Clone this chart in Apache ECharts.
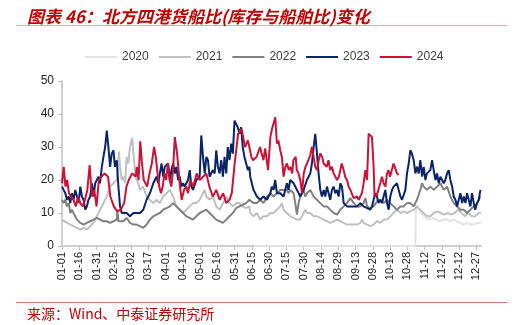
<!DOCTYPE html>
<html><head><meta charset="utf-8">
<script src="https://cdn.jsdelivr.net/npm/echarts@6/dist/echarts.min.js"></script>
<style>html,body{margin:0;padding:0;background:#fff}#c{width:517px;height:325px}</style>
</head><body><div id="c"></div>
<script>
const tickLabels = ['01-01','01-16','01-31','02-15','03-02','03-17','04-01','04-16','05-01','05-16','05-31','06-15','06-30','07-15','07-30','08-14','08-29','09-13','09-28','10-13','10-28','11-12','11-27','12-12','12-27'];
const seriesNames = ['2020','2021','2022','2023','2024'];

// [day of year (0 = 01-01), ratio]
const d2020 = [[167,0],[307,0],[307.5,12.4],[310,11],[313,9.5],[316,8.5],[319,8],[322,8.5],[325,8],[328,7.5],[331,8],[334,8],[337,7.5],[340,8],[343,7.5],[346,7],[349,6.5],[352,7],[355,6.5],[358,6.5],[361,7],[364,7]];

const d2021 = [[0,8],[1.4,7.5],[4.3,7],[7.2,6.5],[10,6],[13,5.5],[15.9,5],[18.7,5.5],[21.6,5],[24.5,6],[27.4,7],[30.3,9],[33,11],[36,13],[38.9,15],[41.8,18],[44.7,19],[47.6,20],[49.5,28.6],[50.4,24],[51.9,20],[53.3,21],[54.8,19],[56.2,27],[57.6,25],[59,30],[61,32.8],[62,28],[63.4,23],[64.8,20],[66.3,19],[67.7,17],[70.6,18],[73.5,15],[76.4,14],[79.3,13],[82.1,14],[85,13],[87.9,15],[90.8,16],[93.7,17],[96.5,15],[99.4,12],[102.3,11],[105.2,10],[108,11],[111,12],[113.8,13],[116.7,13],[119.6,14],[122.5,16],[124,17],[125.4,15],[128.2,14],[131,15],[134,12],[136.9,11],[139.8,13],[142.7,15],[145.5,13],[148.4,12],[151.3,13],[154.2,13],[157,12],[160,11.5],[162.8,12],[163.5,10],[166.4,9],[169.3,10],[172.2,8],[175,9],[178,9],[181,10],[183.8,10],[186.7,11],[189.6,12],[191,13],[192.5,11],[195.4,10],[198.3,9],[201.2,8.5],[204.1,8],[207,8],[209.9,10],[211.3,11],[212.8,10],[215.7,10],[218.6,9],[221.5,9],[224.4,8.5],[227.3,8],[230.2,7.5],[233,7],[236,7.5],[238.9,8],[241.8,7.5],[244.7,7],[247.6,6.5],[250.5,6.5],[253.4,6.5],[256.3,6.5],[259.2,7],[260.6,8],[262,7],[265,6.5],[267.8,6],[270.7,6.5],[273.6,7.5],[276.5,7],[279.4,8],[282.3,8],[285.2,9],[288.1,10],[291,11],[294,10],[296.8,10.5],[299.7,10],[302.6,10.5],[305.5,11],[308.4,12],[311,11],[314,10],[317,9],[320,9],[323,10],[326,10.5],[329,10],[332,9.5],[335,10],[338,9.5],[341,10],[344,11],[347,10],[350,9],[353,10],[356,9],[359,9],[362,10],[364,10]];

const d2022 = [[0,14],[1.4,13],[2.9,14],[4.3,12],[5.8,13],[7.2,10],[8.6,11],[10,10],[11.5,9],[13,8],[15.9,7],[18.7,6.5],[21.6,7],[24.5,7.5],[27.4,8],[30.3,8.5],[33,8],[36,7.5],[38.9,7.5],[41.8,7],[44.7,7.5],[46,7],[47.6,8],[48.1,11],[49,7.5],[50.4,7],[53.3,7.5],[56.2,8.5],[59,7],[62,6.5],[64.8,6.5],[67.7,6],[70.6,5.5],[73.5,6.5],[76.4,8],[79.3,9],[82.1,9.5],[85,10],[87.9,11],[90.8,11.5],[93.7,12],[96.5,13],[99.4,12],[102.3,11],[105.2,10],[108,9],[111,8.5],[113.8,8],[116.7,9],[119.6,10],[122.5,10.5],[125.4,11],[128.2,10],[131,9],[134,8],[136.9,7.5],[139.8,7],[142.7,8],[145.5,9],[148.4,10],[151.3,11.5],[154.2,12],[157,12.5],[160,13],[162.8,14],[166.4,13],[169.3,13],[172.2,14],[175,13],[178,15],[181,16],[183.8,15],[186.7,16],[189.6,17],[192.5,17],[195.4,17],[196.8,16],[198.3,17],[201.2,16],[202.6,13],[204.1,9.5],[205.5,13],[207,15],[209.9,17],[211.3,15],[212.8,16],[215.7,17],[218.6,15],[221.5,14],[224.4,13],[227.3,12],[230.2,12],[233,11],[236,10],[238.9,9.5],[241.8,11],[244.7,12],[247.6,13],[250.5,14.5],[252,14],[253.4,13],[256.3,12],[259.2,12],[262,13],[263.5,14.5],[265,12],[267.8,11.5],[270.7,12],[273.6,13.5],[276.5,14],[279.4,13],[282.3,14],[285.2,13],[288.1,12],[291,11],[294,12],[296.8,12],[299.7,13],[302.6,13],[305.5,12],[308.4,14],[311.3,17],[312.8,19],[314.2,18],[317,17],[320,18],[322.9,17],[325.8,18],[328.7,19],[331.6,17],[334.5,18],[337.4,15],[340.3,13],[343.2,12],[346.1,11],[349,11],[351.9,10],[354.8,11],[357.7,12],[360.6,13],[363.5,15]];

const d2023 = [[0,18],[1.4,17],[2.9,16],[4.3,14],[5.8,15],[7.2,13],[8.6,16],[10,14],[11.5,17],[13,15],[14.4,13],[15.9,18],[17.3,15],[18.7,14],[20.2,11],[21.6,12],[23,14],[24.5,15],[26,19],[27.4,15],[28.8,19],[30.3,20],[31.7,21],[33,19],[34.6,24],[36,27],[37.5,30],[38.9,35],[40.3,30],[41.8,24],[43.2,28],[44.7,29],[46,24],[47.6,26],[49,18],[50.4,12],[51.9,10],[53.3,10],[56.2,10],[59,9],[60.5,8.8],[62,10],[64.8,10],[67.7,10],[70.6,11],[73.5,14],[76.4,16],[79.3,19],[82.1,21],[83.6,19],[85,22],[86.5,25],[87.9,21],[89.3,24],[90.8,24],[92.2,25],[93.7,20],[95.1,23],[96.5,25],[98,22],[99.4,24],[100.9,20],[102.3,21],[103.7,18],[105.2,19],[106.6,18],[108,19],[109.5,20],[111,23],[112.4,18],[113.8,17],[116.7,20],[119.6,21],[121,33.5],[122.5,27],[124,22],[125.4,27],[126.8,26],[128.2,21],[131,23],[132.6,22],[134,29],[135.4,24],[136.9,22],[138.3,26],[139.8,21],[141.2,27],[142.7,22],[144,30],[145.5,26],[147,31],[148.4,28],[149.9,38],[151.3,37],[152.7,36],[154.2,34],[155.6,36],[157,30],[158.5,27],[160,25],[161.4,23],[162.8,24],[163.5,21],[166.4,17],[169.3,15],[172.2,14],[175,15],[178,14],[181,16],[182.3,18],[183.8,17],[185.2,20],[186.7,16],[189.6,16],[192.5,15],[195.4,19],[196.8,17],[198.3,20],[201.2,19],[204.1,17],[207,15],[208.4,15],[209.9,17],[212.8,20],[215.7,22],[217.1,25],[218.6,30],[220,34],[221.5,28],[222.9,22],[224.4,17],[225.8,15],[227.3,17],[228.7,15],[230.2,18],[231.6,16],[233,14],[234.5,17],[236,18],[237.4,16],[238.9,17],[240.3,15],[241.8,19],[243.2,18],[244.7,13],[247.6,12],[250.5,12],[253.4,12],[256.3,12],[259.2,13],[262,12],[265,11.5],[267.8,11],[269.3,12],[270.7,14],[272.2,16],[273.6,15],[275,13],[276.5,14],[278,13],[279.4,15],[280.9,17],[282.3,13],[283.8,11],[285.2,15],[286.7,17],[288.1,18],[291,19],[292.5,17],[294,15],[295.4,14],[296.8,14],[298.3,17],[299.7,22],[301.2,25],[302.6,29],[304,28],[305.5,26],[307,22],[308.4,24],[309.9,22],[311.3,26],[312.8,21],[314.2,24],[315.7,20],[317,22],[320,23],[321.5,26],[322.9,23],[324.4,20],[325.8,22],[327.3,19],[328.7,21],[330.2,20],[331.6,19],[333,20],[334.5,22],[336,23],[337.4,20],[338.9,18],[340.3,15],[341.8,14],[343.2,12],[344.7,14],[346.1,16],[347.6,13],[349,15],[350.5,13],[351.9,16],[353.3,14],[354.8,12],[356.2,16],[357.7,13],[359,11],[360.6,13],[362,14],[363.5,17]];

const d2024 = [[0,19],[1.5,24],[3,18],[4.5,20],[6,16],[8,15],[10,14],[12,12],[14,15],[16,13],[18,12],[20,14],[22,17],[24,24.5],[26,15],[28,17],[30,12],[32,20],[34,21],[37,22],[40,21],[42,15],[45,12],[48,10.5],[51,11],[54,13],[56,18],[58,20],[61,22],[64,21],[65,24],[66.5,20],[68,31.7],[69.5,25],[71,20],[74,18],[76,22],[78,25],[80,30],[81.5,27],[83,22],[84.5,18],[86,16],[87.5,18],[89,22],[90.5,20],[92,25],[93.5,20],[95,18],[96.5,23],[98,33],[100,28],[102.5,18],[104,14],[106,17],[108,18],[109.5,16],[111.5,20],[114,18],[117,22],[119.6,20],[122.5,21],[125.4,22],[128,18],[131,15],[134,17],[137,14],[140,16],[142.7,13],[145.5,14],[147.5,16],[150,25],[153,34],[156,35.5],[159,30],[161.5,32],[164.5,27],[166,26],[169,27],[172,30],[175,26],[176.5,29.6],[179,23],[181,33],[182.5,35.6],[184,35],[185.3,39],[186.7,31],[188,32],[189.6,29],[191,27],[192.5,21],[194,24],[195.4,25],[197,23],[198.3,24],[200,22],[201,26],[203,27],[204,23],[205.5,22],[207,20],[208.5,16],[210,22],[211.5,24],[212.8,25],[214,26],[215.7,27.5],[217,30],[218.6,27],[220,24],[221.5,23],[223,26],[224.4,28],[226,27],[227.3,25],[228.5,25.5],[230,24],[231.5,26],[233,23],[234.5,24],[236,22],[237.5,21],[239,20],[240.5,21],[241.8,23],[243,25],[244.7,23],[246,21],[247.6,20],[249,18],[250.5,17],[252,16.5],[253.4,14.5],[255,14],[256.3,15],[257.7,14],[259,14.5],[260.5,16],[262,19],[263.5,23],[265,20],[266.4,34],[268,34.6],[269.3,33],[270.7,24],[271.5,15],[273.6,15.5],[275,16],[276.5,19],[278,21],[279.4,19],[281,18],[282.3,22],[283.7,23],[285,21],[286.5,23],[288,25],[289.5,23.5],[291,22],[292.5,21.5]];

const colors = ['#e3e3e3','#c0c0c0','#808080','#0a2468','#cc1237'];
const datas = [d2020,d2021,d2022,d2023,d2024];

const chart = echarts.init(document.getElementById('c'));
chart.setOption({
  animation:false,
  title:{text:'图表 46：北方四港货船比(库存与船舶比)变化',left:22,top:3,
    textStyle:{color:'#c00000',fontSize:17,fontStyle:'italic',fontWeight:'bold',fontFamily:'Noto Sans CJK SC'}},
  graphic:[
    {type:'line',shape:{x1:16,y1:25.5,x2:507,y2:25.5},style:{stroke:'#e9a3a3',lineWidth:1}},
    {type:'line',shape:{x1:16,y1:302.5,x2:507,y2:302.5},style:{stroke:'#e07070',lineWidth:1}},
    {type:'text',left:27,top:307,style:{text:'来源：Wind、中泰证券研究所',fill:'#c00000',font:'14px "Noto Sans CJK SC"'}}
  ],
  legend:{data:seriesNames,left:80,top:46,icon:'rect',itemWidth:32,itemHeight:2,itemGap:10,
    textStyle:{fontSize:12,color:'#404040',fontFamily:'Liberation Sans'}},
  grid:{left:62,right:36,top:81,bottom:79},
  xAxis:{type:'value',min:0,max:364,interval:15,
    axisLine:{lineStyle:{color:'#bfbfbf',width:1.5}},
    axisTick:{show:true,length:4,lineStyle:{color:'#bfbfbf'}},
    splitLine:{show:false},
    axisLabel:{rotate:90,fontSize:11,color:'#222',fontFamily:'Liberation Sans',margin:6,showMaxLabel:false,
      formatter:v=>tickLabels[Math.round(v/15)]||''}},
  yAxis:{type:'value',min:0,max:50,interval:10,
    axisLine:{show:true,lineStyle:{color:'#bfbfbf',width:1.5}},
    axisTick:{show:true,length:4,lineStyle:{color:'#bfbfbf'}},
    splitLine:{show:false},
    axisLabel:{fontSize:12,color:'#222',fontFamily:'Liberation Sans',margin:8}},
  series:seriesNames.map((n,i)=>({name:n,type:'line',data:datas[i],showSymbol:false,symbol:'none',
    color:colors[i],lineStyle:{color:colors[i],width:2},z:2+i}))
});
</script></body></html>
